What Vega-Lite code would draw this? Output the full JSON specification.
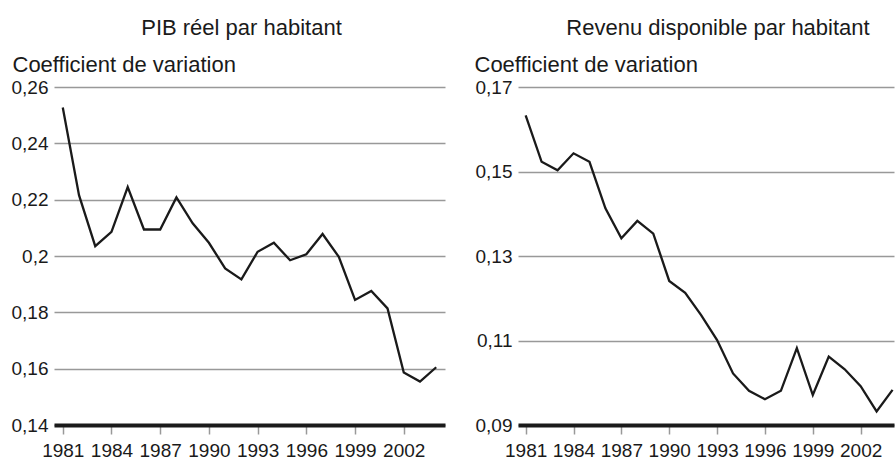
{
  "$schema": "https://vega.github.io/schema/vega-lite/v6.json",
  "padding": {"left": 11, "top": 17, "right": 0, "bottom": 0},
  "spacing": 29,
  "config": {
    "view": {"stroke": null},
    "font": "Liberation Sans",
    "axis": {"labelFont": "Liberation Sans", "titleFont": "Liberation Sans", "labelColor": "#1a1a1a", "titleColor": "#1a1a1a"},
    "title": {"font": "Liberation Sans", "fontSize": 22, "fontWeight": "normal", "color": "#1a1a1a"},
    "line": {"color": "#1a1a1a", "strokeWidth": 2.3}
  },
  "datasets": {
    "pib": [
      {"annee": 1981, "cv": 0.2527}, {"annee": 1982, "cv": 0.2216}, {"annee": 1983, "cv": 0.2035},
      {"annee": 1984, "cv": 0.2086}, {"annee": 1985, "cv": 0.2245}, {"annee": 1986, "cv": 0.2094},
      {"annee": 1987, "cv": 0.2094}, {"annee": 1988, "cv": 0.2208}, {"annee": 1989, "cv": 0.2116},
      {"annee": 1990, "cv": 0.2047}, {"annee": 1991, "cv": 0.1956}, {"annee": 1992, "cv": 0.1917},
      {"annee": 1993, "cv": 0.2015}, {"annee": 1994, "cv": 0.2047}, {"annee": 1995, "cv": 0.1985},
      {"annee": 1996, "cv": 0.2006}, {"annee": 1997, "cv": 0.2078}, {"annee": 1998, "cv": 0.1997},
      {"annee": 1999, "cv": 0.1844}, {"annee": 2000, "cv": 0.1876}, {"annee": 2001, "cv": 0.1814},
      {"annee": 2002, "cv": 0.1586}, {"annee": 2003, "cv": 0.1554}, {"annee": 2004, "cv": 0.1605}
    ],
    "revenu": [
      {"annee": 1981, "cv": 0.1633}, {"annee": 1982, "cv": 0.1523}, {"annee": 1983, "cv": 0.1503},
      {"annee": 1984, "cv": 0.1543}, {"annee": 1985, "cv": 0.1523}, {"annee": 1986, "cv": 0.1413},
      {"annee": 1987, "cv": 0.1342}, {"annee": 1988, "cv": 0.1383}, {"annee": 1989, "cv": 0.1353},
      {"annee": 1990, "cv": 0.1241}, {"annee": 1991, "cv": 0.1213}, {"annee": 1992, "cv": 0.1160},
      {"annee": 1993, "cv": 0.1101}, {"annee": 1994, "cv": 0.1022}, {"annee": 1995, "cv": 0.0981},
      {"annee": 1996, "cv": 0.0961}, {"annee": 1997, "cv": 0.0981}, {"annee": 1998, "cv": 0.1082},
      {"annee": 1999, "cv": 0.0971}, {"annee": 2000, "cv": 0.1062}, {"annee": 2001, "cv": 0.1032},
      {"annee": 2002, "cv": 0.0992}, {"annee": 2003, "cv": 0.0932}, {"annee": 2004, "cv": 0.0983}
    ]
  },
  "hconcat": [
    {
      "width": 391,
      "height": 338,
      "title": {"text": "PIB réel par habitant", "anchor": "middle", "offset": 13, "dx": -8},
      "data": {"name": "pib"},
      "mark": {"type": "line"},
      "encoding": {
        "x": {
          "field": "annee", "type": "quantitative",
          "scale": {"domain": [1980.46, 2004.54], "nice": false, "zero": false},
          "axis": {
            "values": [1981, 1984, 1987, 1990, 1993, 1996, 1999, 2002],
            "format": "d", "title": null, "grid": false,
            "domain": true, "domainColor": "#1a1a1a", "domainWidth": 4,
            "ticks": true, "tickColor": "#999999", "tickSize": 9, "tickWidth": 1.5,
            "labelFontSize": 19, "labelPadding": 7, "labelFlush": false, "labelOverlap": false
          }
        },
        "y": {
          "field": "cv", "type": "quantitative",
          "scale": {"domain": [0.14, 0.26], "nice": false, "zero": false},
          "axis": {
            "values": [0.14, 0.16, 0.18, 0.2, 0.22, 0.24, 0.26],
            "labelExpr": "replace(format(datum.value, '.2~f'), '.', ',')",
            "grid": true, "gridColor": "#999999", "gridWidth": 1.5,
            "domain": false, "ticks": false,
            "labelFontSize": 19, "labelPadding": 6,
            "title": "Coefficient de variation", "titleAngle": 0, "titleAlign": "left",
            "titleBaseline": "alphabetic", "titleX": -42, "titleY": -16,
            "titleFontSize": 22, "titleFontWeight": "normal"
          }
        }
      }
    },
    {
      "width": 376,
      "height": 338,
      "title": {"text": "Revenu disponible par habitant", "anchor": "middle", "offset": 13, "dx": 12},
      "data": {"name": "revenu"},
      "mark": {"type": "line"},
      "encoding": {
        "x": {
          "field": "annee", "type": "quantitative",
          "scale": {"domain": [1980.52, 2004.09], "nice": false, "zero": false},
          "axis": {
            "values": [1981, 1984, 1987, 1990, 1993, 1996, 1999, 2002],
            "format": "d", "title": null, "grid": false,
            "domain": true, "domainColor": "#1a1a1a", "domainWidth": 4,
            "ticks": true, "tickColor": "#999999", "tickSize": 9, "tickWidth": 1.5,
            "labelFontSize": 19, "labelPadding": 7, "labelFlush": false, "labelOverlap": false
          }
        },
        "y": {
          "field": "cv", "type": "quantitative",
          "scale": {"domain": [0.09, 0.17], "nice": false, "zero": false},
          "axis": {
            "values": [0.09, 0.11, 0.13, 0.15, 0.17],
            "labelExpr": "replace(format(datum.value, '.2~f'), '.', ',')",
            "grid": true, "gridColor": "#999999", "gridWidth": 1.5,
            "domain": false, "ticks": false,
            "labelFontSize": 19, "labelPadding": 6,
            "title": "Coefficient de variation", "titleAngle": 0, "titleAlign": "left",
            "titleBaseline": "alphabetic", "titleX": -44, "titleY": -16,
            "titleFontSize": 22, "titleFontWeight": "normal"
          }
        }
      }
    }
  ]
}
